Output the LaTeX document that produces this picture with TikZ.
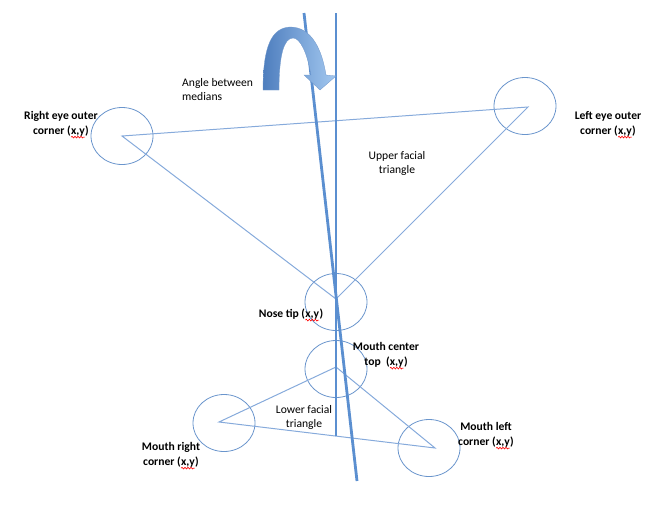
\documentclass[tikz,border=0pt]{standalone}
\usepackage{fontspec}
\setmainfont{Carlito}
\usetikzlibrary{shapes.geometric,decorations.pathmorphing}
\newcommand\rwave[1]{\tikz[baseline=(w.base),x=1pt,y=1pt]{\node[inner sep=0pt,outer sep=0pt,anchor=base,shape=rectangle,draw=none](w){#1};\draw[red,line width=0.6pt,decorate,decoration={snake,amplitude=0.9pt,segment length=3pt}] ([yshift=-2.8pt]w.base west) -- ([yshift=-2.8pt]w.base east);}}
\definecolor{circ}{HTML}{6A95CC}
\definecolor{tri}{HTML}{86AADB}
\definecolor{med}{HTML}{5B8FD0}
\definecolor{arrD}{HTML}{4E7EBE}
\definecolor{arrL}{HTML}{A3C8F0}
\tikzset{
  ring/.style={draw=circ, line width=0.8pt, ellipse, minimum width=62pt, minimum height=57pt, inner sep=0pt},
  edge/.style={draw=tri, line width=1pt},
  median/.style={draw=med, line width=2.8pt},
  lab/.style={font=\fontsize{11.6}{14.5}\selectfont\bfseries, align=center, inner sep=0pt},
  plain/.style={font=\fontsize{11.6}{14}\selectfont, align=center, inner sep=0pt}
}
\begin{document}
\begin{tikzpicture}[x=1pt,y=-1pt]
\useasboundingbox (0,0) rectangle (671,528);
% vertices
\coordinate (re) at (122,136);
\coordinate (le) at (528,107);
\coordinate (nt) at (336,299);
\coordinate (mc) at (336,367);
\coordinate (mr) at (219,422);
\coordinate (ml) at (435,448);
% circles
\node[ring] (cre) at (122,136) {};
\node[ring] (cle) at (525,106) {};
\node[ring] (cnt) at (336,302) {};
\node[ring] (cmc) at (336,369) {};
\node[ring] (cmr) at (224,423) {};
\node[ring] (cml) at (429,448) {};
% triangles
\draw[edge] (re) -- (le) -- (nt) -- cycle;
\draw[edge] (mc) -- (mr) -- (ml) -- cycle;
% medians
\coordinate (v1) at (336,13);
\coordinate (v2) at (336,436);
\coordinate (t1) at (304,13);
\coordinate (t2) at (357,481);
\draw[median] (v1) -- (v2);
\draw[median] (t1) -- (t2);
% curved arrow
\shade[left color=arrD, right color=arrL, draw=arrD!80, line width=0.3pt]
  (263,90) .. controls (263,45) and (272,28) .. (290,27)
  .. controls (312,27) and (322,50) .. (326,75)
  -- (336,76) -- (320,90) -- (304,75) -- (311,75)
  .. controls (307,52) and (300,38) .. (293,38)
  .. controls (284,38) and (279,55) .. (279,90) -- cycle;
% labels
\node[lab] (lre) at (61,125) {Right eye outer\\corner (\rwave{x,y})};
\node[lab] (lle) at (608,125) {Left eye outer\\corner (\rwave{x,y})};
\node[lab] (lnt) at (291,315) {Nose tip (\rwave{x,y})};
\node[lab] (lmc) at (386,356) {Mouth center\\top\ \ (\rwave{x,y})};
\node[lab] (lmr) at (171,456) {Mouth right\\corner (\rwave{x,y})};
\node[lab] (lml) at (486,436) {Mouth left\\corner (\rwave{x,y})};
\node[plain] (lut) at (397,163) {Upper facial\\triangle};
\node[plain] (llt) at (304,417) {Lower facial\\triangle};
\node[plain, anchor=west, align=left] (lam) at (182,90) {Angle between\\medians};
\end{tikzpicture}
\end{document}
